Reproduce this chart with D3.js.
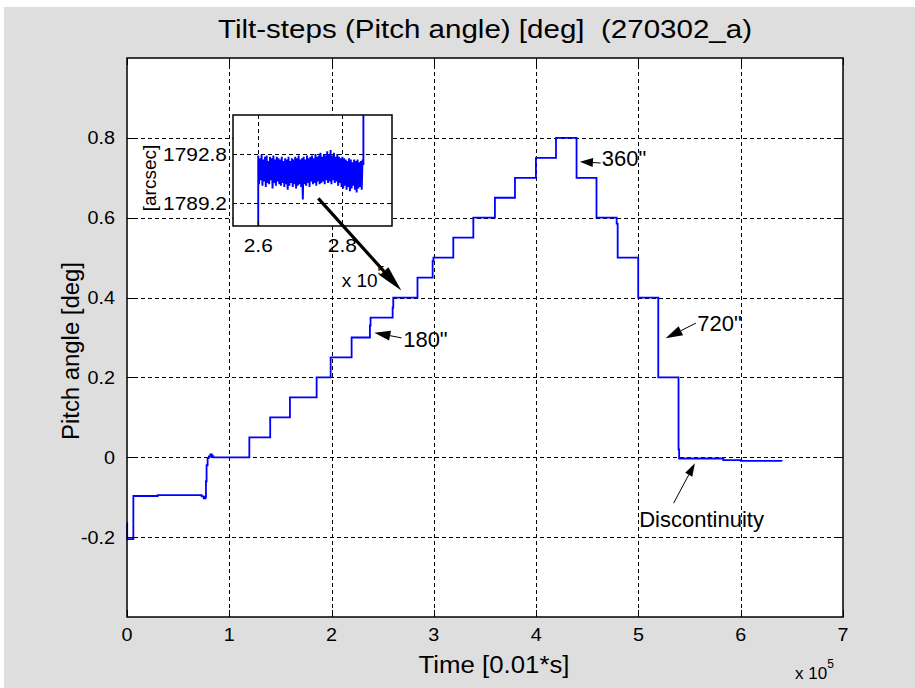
<!DOCTYPE html>
<html>
<head>
<meta charset="utf-8">
<script src="https://cdn.jsdelivr.net/npm/d3@7"></script>
<style>
  body { margin: 0; background: #fff; }
  svg { display: block; }
  text { font-family: "Liberation Sans", Arial, Helvetica, sans-serif; fill: #000; white-space: pre; }
</style>
</head>
<body>
<svg id="chart" width="915" height="688"></svg>
<script>
// Pitch angle record: time of each level change [x 1e5 * 0.01 s] and the level held from then on [deg]
const stepTimes  = [0.000, 0.002, 0.062, 0.300, 0.730, 0.750, 0.768, 0.772, 0.778, 0.788, 0.800, 0.815, 0.830, 0.845,
                    1.196, 1.400, 1.593, 1.854, 1.991, 2.196, 2.375, 2.381, 2.597, 2.603, 2.840, 2.988, 2.996,
                    3.190, 3.386, 3.597, 3.793, 3.998, 4.194, 4.395, 4.590, 4.787, 4.797, 4.998, 5.194,
                    5.392, 5.398, 5.830, 6.000, 6.400];
const stepLevels = [-0.165, -0.205, -0.097, -0.095, -0.098, -0.103, -0.099, -0.060, -0.020, -0.002, 0.002, 0.007, 0.003, 0.000,
                    0.050, 0.100, 0.150, 0.200, 0.250, 0.300, 0.330, 0.350, 0.375, 0.400, 0.450, 0.492, 0.500,
                    0.550, 0.600, 0.650, 0.700, 0.750, 0.800, 0.700, 0.600, 0.585, 0.500, 0.400, 0.200,
                    0.020, -0.003, -0.007, -0.009, -0.010];

// Zoomed record of the 0.4 deg step, in arcsec, sampled every 0.002 from 2.600
const insetStart = 2.600;
const insetInterval = 0.002;
const insetSamples = [
  1792.7,1790.6,1792.5,1790.9,1792.8,1790.5,1792.4,1790.8,1792.6,1790.4,1792.7,1790.7,1792.3,1790.6,1792.6,1790.9,1792.5,1790.3,1792.7,1790.7,1792.4,1790.5,1792.6,1790.8,1792.5,1790.6,
  1792.4,1790.5,1792.6,1790.7,1792.3,1790.4,1792.5,1790.6,1792.4,1790.2,1792.6,1790.5,1792.3,1790.7,1792.5,1790.4,1792.4,1790.6,1792.6,1790.3,1792.5,1790.5,1792.7,1790.6,1792.4,
  1790.4,1792.5,1789.5,1792.6,1790.6,1792.4,1790.5,1792.7,1790.7,1792.5,1790.4,1792.6,1790.8,1792.7,1790.6,1792.5,1790.7,1792.8,1790.5,1792.6,1790.8,1792.7,1790.6,1792.9,1790.7,
  1792.6,1790.8,1792.8,1790.6,1792.7,1790.9,1793.0,1790.7,1792.8,1790.8,1793.1,1790.6,1792.7,1790.9,1792.9,1790.7,1792.6,1790.8,1792.8,1790.5,1792.6,1790.7,1792.5,1790.4,1792.6,
  1790.3,1792.5,1790.5,1792.4,1790.2,1792.3,1790.4,1792.5,1790.1,1792.4,1790.3,1792.2,1790.5,1792.4,1790.2,1792.3,1790.0,1792.4,1790.3,1792.2,1790.4,1792.3,1790.2,1792.4
];
// Levels just before and after the sampled stretch
const insetBefore = { t: 2.600, v: 1780.0 };
const insetAfter  = [{ t: 2.850, v: 1792.0 }, { t: 2.850, v: 1800.0 }];

const xTicks = [0, 1, 2, 3, 4, 5, 6, 7];
const yTicks = [-0.2, 0, 0.2, 0.4, 0.6, 0.8];
const yTickLabels = ["-0.2", "0", "0.2", "0.4", "0.6", "0.8"];
const insetXTicks = [2.6, 2.8];
const insetYTicks = [1789.2, 1792.8];

// Step-size annotations (data coordinates)
const notes = [
  { label: '180"', tip: [2.418, 0.312], tail: [2.685, 0.299], at: [2.700, 0.2755], head: [16, 5] },
  { label: '360"', tip: [4.428, 0.740], tail: [4.631, 0.737], at: [4.641, 0.7305], head: [13, 4.5] },
  { label: '720"', tip: [5.266, 0.298], tail: [5.562, 0.336], at: [5.575, 0.317], head: [17, 5] },
  { label: 'Discontinuity', tip: [5.552, -0.015], tail: [5.344, -0.115], at: [5.008, -0.175], head: [13, 4] }
];
const zoomArrow = { tail: [1.870, 0.6486], tip: [2.682, 0.4174] };

const svg = d3.select("#chart");
const W = 915, H = 688;
const M = { left: 127, right: 843, top: 58, bottom: 617 };

const x = d3.scaleLinear().domain([0, 7]).range([M.left, M.right]);
const y = d3.scaleLinear().domain([-0.4, 1.0]).range([M.bottom, M.top]);

function widen(sel, k) {
  sel.each(function () {
    const n = this.getComputedTextLength();
    this.setAttribute("textLength", (n * k).toFixed(1));
    this.setAttribute("lengthAdjust", "spacingAndGlyphs");
  });
  return sel;
}

// figure background
svg.append("rect").attr("x", 4).attr("y", 7).attr("width", W - 4).attr("height", H - 7).attr("fill", "#dedede");

// axes area
svg.append("rect").attr("x", M.left).attr("y", M.top)
  .attr("width", M.right - M.left).attr("height", M.bottom - M.top).attr("fill", "#fff");

const grid = svg.append("g").attr("stroke", "#000").attr("stroke-width", 1).attr("stroke-dasharray", "4,3");
grid.selectAll(".gx").data(xTicks.filter(d => d > 0 && d < 7)).join("line")
  .attr("x1", d => Math.round(x(d)) + 0.5).attr("x2", d => Math.round(x(d)) + 0.5)
  .attr("y1", M.top).attr("y2", M.bottom);
grid.selectAll(".gy").data(yTicks).join("line")
  .attr("y1", d => Math.round(y(d)) + 0.5).attr("y2", d => Math.round(y(d)) + 0.5)
  .attr("x1", M.left).attr("x2", M.right);

// the step record
const mainPts = stepTimes.map((t, i) => [t, stepLevels[i]]);
svg.append("path").datum(mainPts)
  .attr("fill", "none").attr("stroke", "#0000ff").attr("stroke-width", 1.8)
  .attr("d", d3.line().x(d => x(d[0])).y(d => y(d[1])).curve(d3.curveStepAfter));

// ticks on all four sides
const tl = 7;
const ticks = svg.append("g").attr("stroke", "#000").attr("stroke-width", 1);
xTicks.forEach(d => {
  const px = Math.round(x(d)) + 0.5;
  ticks.append("line").attr("x1", px).attr("x2", px).attr("y1", M.bottom).attr("y2", M.bottom - tl);
  ticks.append("line").attr("x1", px).attr("x2", px).attr("y1", M.top).attr("y2", M.top + tl);
});
yTicks.forEach(d => {
  const py = Math.round(y(d)) + 0.5;
  ticks.append("line").attr("y1", py).attr("y2", py).attr("x1", M.left).attr("x2", M.left + tl);
  ticks.append("line").attr("y1", py).attr("y2", py).attr("x1", M.right).attr("x2", M.right - tl);
});
svg.append("rect").attr("x", M.left).attr("y", M.top)
  .attr("width", M.right - M.left).attr("height", M.bottom - M.top)
  .attr("fill", "none").attr("stroke", "#000").attr("stroke-width", 1.5);

// tick labels
svg.append("g").selectAll("text").data(xTicks).join("text")
  .attr("x", d => x(d)).attr("y", 641).attr("text-anchor", "middle")
  .attr("font-size", 18).text(d => d)
  .call(widen, 1.1);
svg.append("g").selectAll("text").data(yTicks).join("text")
  .attr("x", 115).attr("y", d => y(d) + 6.5).attr("text-anchor", "end")
  .attr("font-size", 18).text((d, i) => yTickLabels[i])
  .call(widen, 1.1);

// title and axis labels
svg.append("text").attr("x", (M.left + M.right) / 2).attr("y", 38).attr("text-anchor", "middle")
  .attr("font-size", 26).attr("textLength", 534).attr("lengthAdjust", "spacingAndGlyphs")
  .text("Tilt-steps (Pitch angle) [deg]\u00a0\u00a0(270302_a)");
svg.append("text").attr("x", 494).attr("y", 673).attr("text-anchor", "middle")
  .attr("font-size", 23).attr("textLength", 151).attr("lengthAdjust", "spacingAndGlyphs")
  .text("Time [0.01*s]");
svg.append("text").attr("transform", "translate(79,351) rotate(-90)").attr("text-anchor", "middle")
  .attr("font-size", 23).attr("textLength", 178).attr("lengthAdjust", "spacingAndGlyphs")
  .text("Pitch angle [deg]");
const ex = svg.append("text").attr("x", 795).attr("y", 679).attr("font-size", 17);
ex.append("tspan").text("x 10");
ex.append("tspan").attr("dy", -11).attr("font-size", 12).text("5");

// ---- inset: zoom on the 0.4 deg step ----
const I = { left: 233, top: 115, width: 159, height: 111 };
const ix = d3.scaleLinear().domain([2.54, 2.918]).range([I.left, I.left + I.width]);
const iy = d3.scaleLinear().domain([1787.56, 1795.65]).range([I.top + I.height, I.top]);

svg.append("rect").attr("x", I.left).attr("y", I.top).attr("width", I.width).attr("height", I.height).attr("fill", "#fff");
const ig = svg.append("g").attr("stroke", "#000").attr("stroke-width", 1).attr("stroke-dasharray", "4,3");
ig.selectAll(".a").data(insetXTicks).join("line")
  .attr("x1", d => Math.round(ix(d)) + 0.5).attr("x2", d => Math.round(ix(d)) + 0.5)
  .attr("y1", I.top).attr("y2", I.top + I.height);
ig.selectAll(".b").data(insetYTicks).join("line")
  .attr("y1", d => Math.round(iy(d)) + 0.5).attr("y2", d => Math.round(iy(d)) + 0.5)
  .attr("x1", I.left).attr("x2", I.left + I.width);

svg.append("clipPath").attr("id", "insetClip").append("rect")
  .attr("x", I.left).attr("y", I.top).attr("width", I.width).attr("height", I.height);
const insetPts = [[insetBefore.t, insetBefore.v]]
  .concat(insetSamples.map((v, i) => [insetStart + i * insetInterval, v]))
  .concat(insetAfter.map(p => [p.t, p.v]));
svg.append("path").datum(insetPts).attr("clip-path", "url(#insetClip)")
  .attr("fill", "none").attr("stroke", "#0000ff").attr("stroke-width", 1.9)
  .attr("d", d3.line().x(d => ix(d[0])).y(d => iy(d[1])));

const it = svg.append("g").attr("stroke", "#000").attr("stroke-width", 1);
insetXTicks.forEach(d => {
  const px = Math.round(ix(d)) + 0.5;
  it.append("line").attr("x1", px).attr("x2", px).attr("y1", I.top + I.height).attr("y2", I.top + I.height - 4);
  it.append("line").attr("x1", px).attr("x2", px).attr("y1", I.top).attr("y2", I.top + 4);
});
insetYTicks.forEach(d => {
  const py = Math.round(iy(d)) + 0.5;
  it.append("line").attr("y1", py).attr("y2", py).attr("x1", I.left).attr("x2", I.left + 4);
  it.append("line").attr("y1", py).attr("y2", py).attr("x1", I.left + I.width).attr("x2", I.left + I.width - 4);
});
svg.append("rect").attr("x", I.left).attr("y", I.top).attr("width", I.width).attr("height", I.height)
  .attr("fill", "none").attr("stroke", "#000").attr("stroke-width", 1.5);

svg.append("g").selectAll("text").data(insetXTicks).join("text")
  .attr("x", d => ix(d)).attr("y", 252).attr("text-anchor", "middle")
  .attr("font-size", 19).text(d => d.toFixed(1)).call(widen, 1.1);
svg.append("g").selectAll("text").data(insetYTicks).join("text")
  .attr("x", 227).attr("y", d => iy(d) + 7).attr("text-anchor", "end")
  .attr("font-size", 19).text(d => d.toFixed(1)).call(widen, 1.1);
svg.append("text").attr("transform", "translate(156,178) rotate(-90)").attr("text-anchor", "middle")
  .attr("font-size", 19).text("[arcsec]");
const iex = svg.append("text").attr("x", x(2.099)).attr("y", y(0.427)).attr("font-size", 19);
iex.append("tspan").text("x 10");
iex.append("tspan").attr("dy", -12).attr("font-size", 13).text("5");

// ---- arrows ----
function arrow(tail, tip, len, half, width) {
  const x0 = x(tail[0]), y0 = y(tail[1]), x1 = x(tip[0]), y1 = y(tip[1]);
  const a = Math.atan2(y1 - y0, x1 - x0);
  const bx = x1 - len * Math.cos(a), by = y1 - len * Math.sin(a);
  svg.append("line").attr("x1", x0).attr("y1", y0).attr("x2", bx).attr("y2", by)
    .attr("stroke", "#000").attr("stroke-width", width);
  const px = -Math.sin(a) * half, py = Math.cos(a) * half;
  svg.append("path")
    .attr("d", `M${x1},${y1}L${bx + px},${by + py}L${bx - px},${by - py}Z`)
    .attr("fill", "#000");
}
arrow(zoomArrow.tail, zoomArrow.tip, 26, 6, 3.2);
notes.forEach(n => {
  arrow(n.tail, n.tip, n.head[0], n.head[1], 1);
  svg.append("text").attr("x", x(n.at[0])).attr("y", y(n.at[1]))
    .attr("font-size", 22).text(n.label);
});
</script>
</body>
</html>
